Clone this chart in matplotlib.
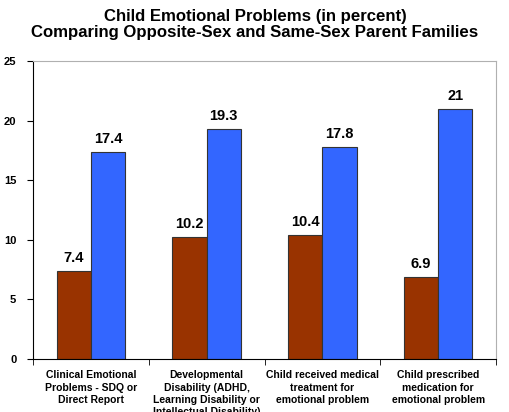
import numpy as np
import matplotlib
matplotlib.use("Agg")
import matplotlib.pyplot as plt

plt.rcParams["font.family"] = ["Liberation Sans", "DejaVu Sans"]

categories = [
    "Clinical Emotional\nProblems - SDQ or\nDirect Report",
    "Developmental\nDisability (ADHD,\nLearning Disability or\nIntellectual Disability)",
    "Child received medical\ntreatment for\nemotional problem",
    "Child prescribed\nmedication for\nemotional problem",
]
opposite_sex = [7.4, 10.2, 10.4, 6.9]
same_sex = [17.4, 19.3, 17.8, 21]
yticks = [0, 5, 10, 15, 20, 25]

fig = plt.figure(figsize=(5.1, 4.12), dpi=100)
ax = fig.add_axes([33 / 510, 53 / 412, 463 / 510, 298 / 412])

x = np.arange(len(categories))
w = 0.295
b1 = ax.bar(x - w / 2, opposite_sex, w, color="#993300", edgecolor="#333333", linewidth=0.8)
b2 = ax.bar(x + w / 2, same_sex, w, color="#3366FF", edgecolor="#333333", linewidth=0.8)

for bars, vals in ((b1, opposite_sex), (b2, same_sex)):
    for r, v in zip(bars, vals):
        ax.text(r.get_x() + r.get_width() / 2, v + 0.5, f"{v:g}", ha="center", va="bottom",
                fontsize=10.5, fontweight="bold")

ax.set_xlim(-0.5, len(categories) - 0.5)
ax.set_ylim(0, 25)
ax.set_yticks(yticks)
ax.set_yticklabels([str(t) for t in yticks], fontsize=8, fontweight="bold")
ax.tick_params(axis="y", direction="out", length=4, pad=8)

ax.set_xticks(x)
ax.set_xticklabels(categories, fontsize=7.5, fontweight="bold", va="top", linespacing=1.3)
ax.tick_params(axis="x", length=0, pad=8)
ax.set_xticks(np.arange(len(categories) + 1) - 0.5, minor=True)
ax.tick_params(axis="x", which="minor", direction="out", length=4)

for s in ("top", "right"):
    ax.spines[s].set_color("#b0b0b0")
    ax.spines[s].set_linewidth(0.8)
for s in ("left", "bottom"):
    ax.spines[s].set_color("black")
    ax.spines[s].set_linewidth(0.8)

fig.suptitle("Child Emotional Problems (in percent)\nComparing Opposite-Sex and Same-Sex Parent Families",
             y=0.978, fontsize=12.1, fontweight="bold", linespacing=1.05)

fig.savefig("out.png", dpi=100)
